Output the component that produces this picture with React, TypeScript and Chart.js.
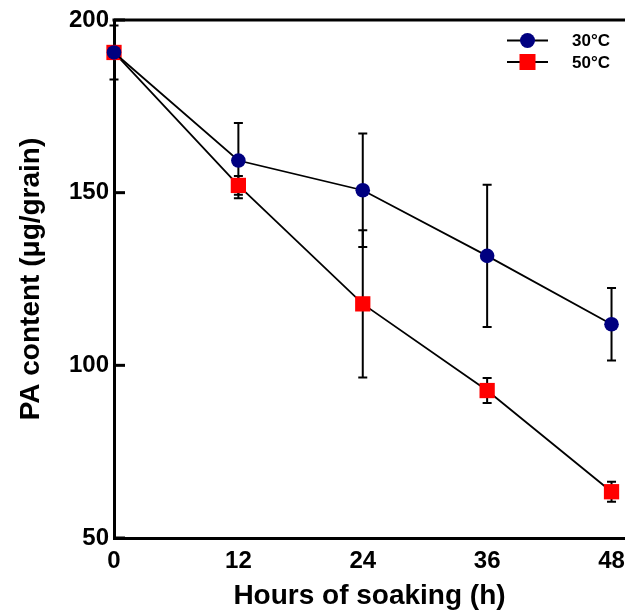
import { useEffect, useRef } from "react";
import { Chart, registerables } from "chart.js";

Chart.register(...registerables);

const hours = [0, 12, 24, 36, 48];
const pa30 = [190.6, 159.3, 150.7, 131.7, 111.9];
const err30 = [7.8, 10.9, 16.4, 20.6, 10.5];
const pa50 = [190.6, 152.1, 117.8, 92.7, 63.4];
const err50 = [1.5, 2.7, 21.3, 3.6, 2.9];
const xTicks = [0, 12, 24, 36, 48];
const yTicks = [50, 100, 150, 200];
const seriesLabels = ["30°C", "50°C"];
const xTitle = "Hours of soaking (h)";
const yTitle = "PA content (μg/grain)";

const FONT = "'Liberation Sans', Arial, Helvetica, sans-serif";
const errors = [err30, err50];

const framePlugin = {
  id: "frame",
  beforeDatasetsDraw(chart: any) {
    const ctx = chart.ctx;
    const ys = chart.scales.y;
    ctx.save();
    ctx.strokeStyle = "#000";
    ctx.lineWidth = 2;
    chart.data.datasets.forEach((ds: any, i: number) => {
      const meta = chart.getDatasetMeta(i);
      const errs = errors[i];
      meta.data.forEach((pt: any, j: number) => {
        const v = ds.data[j].y;
        const e = errs[j];
        const x = pt.x;
        const yt = ys.getPixelForValue(v + e);
        const yb = ys.getPixelForValue(v - e);
        ctx.beginPath();
        ctx.moveTo(x, yt);
        ctx.lineTo(x, yb);
        ctx.moveTo(x - 4.5, yt);
        ctx.lineTo(x + 4.5, yt);
        ctx.moveTo(x - 4.5, yb);
        ctx.lineTo(x + 4.5, yb);
        ctx.stroke();
      });
    });
    ctx.restore();
  },
  afterDraw(chart: any) {
    const ctx = chart.ctx;
    const a = chart.chartArea;
    const ys = chart.scales.y;
    ctx.save();
    ctx.strokeStyle = "#000";
    ctx.lineWidth = 3;
    // top frame line
    ctx.beginPath();
    ctx.moveTo(a.left - 1.5, a.top);
    ctx.lineTo(a.right, a.top);
    ctx.stroke();
    // inward y ticks
    yTicks.forEach((t) => {
      const y = ys.getPixelForValue(t);
      ctx.beginPath();
      ctx.moveTo(a.left, y);
      ctx.lineTo(a.left + 11, y);
      ctx.stroke();
    });
    // legend
    const rows = [
      { y: 40.5, style: "circle", color: "#000080" },
      { y: 62, style: "rect", color: "#ff0000" },
    ];
    rows.forEach((r, i) => {
      ctx.strokeStyle = "#000";
      ctx.lineWidth = 1.8;
      ctx.beginPath();
      ctx.moveTo(507, r.y);
      ctx.lineTo(548, r.y);
      ctx.stroke();
      ctx.fillStyle = r.color;
      if (r.style === "circle") {
        ctx.beginPath();
        ctx.arc(527.5, r.y, 7.5, 0, Math.PI * 2);
        ctx.fill();
      } else {
        ctx.fillRect(519.5, r.y - 8, 16, 16);
      }
      ctx.fillStyle = "#000";
      ctx.font = `bold 17px ${FONT}`;
      ctx.textBaseline = "middle";
      ctx.textAlign = "left";
      ctx.fillText(seriesLabels[i], 572, r.y + 1);
    });
    ctx.restore();
  },
};

export default function App() {
  const ref = useRef<HTMLCanvasElement | null>(null);
  useEffect(() => {
    if (!ref.current) return;
    const chart = new Chart(ref.current, {
      type: "line",
      data: {
        datasets: [
          {
            label: seriesLabels[0],
            data: hours.map((h, i) => ({ x: h, y: pa30[i] })),
            borderColor: "#000",
            borderWidth: 1.8,
            pointStyle: "circle",
            pointRadius: 7.3,
            pointBackgroundColor: "#000080",
            pointBorderColor: "#000080",
            pointBorderWidth: 0,
            tension: 0,
            clip: false,
          } as any,
          {
            label: seriesLabels[1],
            data: hours.map((h, i) => ({ x: h, y: pa50[i] })),
            borderColor: "#000",
            borderWidth: 1.8,
            pointStyle: "rect",
            pointRadius: 10.8,
            pointBackgroundColor: "#ff0000",
            pointBorderColor: "#ff0000",
            pointBorderWidth: 0,
            tension: 0,
            clip: false,
          } as any,
        ],
      },
      options: {
        responsive: false,
        devicePixelRatio: 1,
        animation: false,
        layout: { autoPadding: false, padding: { top: 20, left: 0, right: 0, bottom: 0 } },
        plugins: { legend: { display: false }, tooltip: { enabled: false } },
        scales: {
          x: {
            type: "linear",
            min: 0,
            max: 49.3,
            afterFit: (s: any) => {
              s.height = 73;
              s.paddingLeft = 0;
              s.paddingRight = 0;
            },
            afterBuildTicks: (s: any) => {
              s.ticks = xTicks.map((v) => ({ value: v }));
            },
            grid: { display: false, drawTicks: false },
            border: { display: true, width: 3, color: "#000" },
            ticks: {
              padding: 9,
              color: "#000",
              font: { family: FONT, size: 24, weight: "bold" },
            },
            title: {
              display: true,
              text: xTitle,
              color: "#000",
              font: { family: FONT, size: 28, weight: "bold" },
              padding: { top: 0, bottom: -2 },
            },
          },
          y: {
            type: "linear",
            min: 50,
            max: 200,
            afterFit: (s: any) => {
              s.width = 114;
              s.paddingTop = 0;
              s.paddingBottom = 0;
            },
            afterBuildTicks: (s: any) => {
              s.ticks = yTicks.map((v) => ({ value: v }));
            },
            grid: { display: false, drawTicks: false },
            border: { display: true, width: 3, color: "#000" },
            ticks: {
              padding: 5,
              color: "#000",
              font: { family: FONT, size: 24, weight: "bold" },
            },
            title: {
              display: true,
              text: yTitle,
              color: "#000",
              font: { family: FONT, size: 28, weight: "bold" },
              padding: { top: 14, bottom: 0 },
            },
          },
        },
      } as any,
      plugins: [framePlugin],
    });
    return () => chart.destroy();
  }, []);
  return (
    <canvas
      ref={ref}
      width={625}
      height={611}
      style={{ position: "absolute", left: 0, top: 0, width: 625, height: 611 }}
    />
  );
}
